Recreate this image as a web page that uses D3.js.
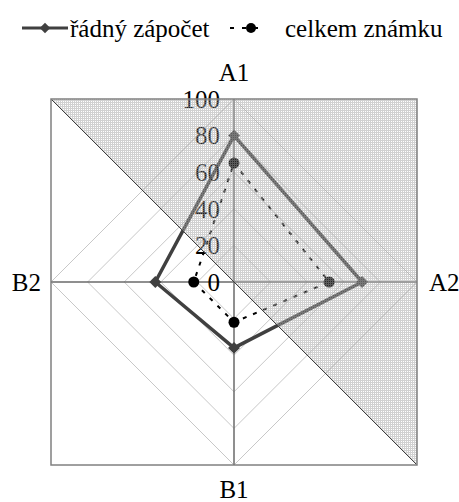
<!DOCTYPE html>
<html>
<head>
<meta charset="utf-8">
<script src="https://cdn.jsdelivr.net/npm/d3@7"></script>
<style>
  body { margin: 0; background: #fff; }
</style>
</head>
<body>
<div id="chart"></div>
<script>
// chart data
var axisNames = ["A1", "A2", "B1", "B2"];
var radnyZapocet = [80, 70, 36, 43];
var celkemZnamku = [65, 52, 22, 22];
var tickValues = [0, 20, 40, 60, 80, 100];
var seriesNames = ["řádný zápočet", "celkem známku"];

var svgWidth = 459;
var svgHeight = 502;
var cx = 234, cy = 282;
var serif = "Liberation Serif";

var svg = d3.select("#chart")
  .append("svg")
  .attr("width", svgWidth)
  .attr("height", svgHeight);

// radial scale and angle per axis (clockwise from top)
var rScale = d3.scaleLinear().domain([0, 100]).range([0, 183]);
var angle = d3.scalePoint().domain(axisNames).range([0, 2 * Math.PI * 3 / 4]);
var R = rScale(100);

// fine mesh used for the shaded triangle
var defs = svg.append("defs");
var pat = defs.append("pattern")
  .attr("id", "mesh")
  .attr("width", 2).attr("height", 2)
  .attr("patternUnits", "userSpaceOnUse");
pat.append("rect").attr("width", 2).attr("height", 2)
  .attr("fill", "#fff").attr("fill-opacity", 0.15);
pat.append("rect").attr("width", 2).attr("height", 1)
  .attr("fill", "#9a9a9a").attr("fill-opacity", 0.45);
pat.append("rect").attr("y", 1).attr("width", 1).attr("height", 1)
  .attr("fill", "#9a9a9a").attr("fill-opacity", 0.45);

var g = svg.append("g").attr("transform", `translate(${cx}, ${cy})`);

// grid diamonds
var gridLine = d3.lineRadial()
  .angle(d => angle(d.axis))
  .radius(d => rScale(d.value))
  .curve(d3.curveLinearClosed);

g.selectAll(".grid")
  .data(tickValues.slice(1))
  .enter()
  .append("path")
  .attr("d", t => gridLine(axisNames.map(a => ({axis: a, value: t}))))
  .attr("fill", "none")
  .attr("stroke", "#c8c8c8")
  .attr("stroke-width", 1);

// spokes
g.selectAll(".spoke")
  .data(axisNames)
  .enter()
  .append("line")
  .attr("x2", a => R * Math.sin(angle(a)))
  .attr("y2", a => -R * Math.cos(angle(a)))
  .attr("stroke", "#6a6a6a")
  .attr("stroke-width", 1.5);

// series
var seriesLine = d3.lineRadial()
  .angle((d, i) => angle(axisNames[i]))
  .radius(d => rScale(d))
  .curve(d3.curveLinearClosed);

g.append("path")
  .attr("d", seriesLine(celkemZnamku))
  .attr("fill", "none")
  .attr("stroke", "#000")
  .attr("stroke-width", 2)
  .attr("stroke-dasharray", "4,7");

g.append("path")
  .attr("d", seriesLine(radnyZapocet))
  .attr("fill", "none")
  .attr("stroke", "#404040")
  .attr("stroke-width", 3.5)
  .attr("stroke-linejoin", "round");

g.selectAll(".m2")
  .data(celkemZnamku)
  .enter()
  .append("circle")
  .attr("cx", (d, i) => rScale(d) * Math.sin(angle(axisNames[i])))
  .attr("cy", (d, i) => -rScale(d) * Math.cos(angle(axisNames[i])))
  .attr("r", 5.5)
  .attr("fill", "#000");

g.selectAll(".m1")
  .data(radnyZapocet)
  .enter()
  .append("path")
  .attr("d", d3.symbol().type(d3.symbolDiamond2).size(90))
  .attr("transform", (d, i) => `translate(${rScale(d) * Math.sin(angle(axisNames[i]))}, ${-rScale(d) * Math.cos(angle(axisNames[i]))})`)
  .attr("fill", "#404040");

// radial tick labels
g.selectAll(".tick")
  .data(tickValues)
  .enter()
  .append("text")
  .attr("x", -14)
  .attr("y", t => -rScale(t))
  .attr("dy", "0.35em")
  .attr("text-anchor", "end")
  .attr("font-family", serif)
  .attr("font-size", 25)
  .attr("fill", "#000")
  .text(t => t);

// shaded triangle over the upper right
g.append("path")
  .attr("d", `M${-R},${-R}L${R},${-R}L${R},${R}Z`)
  .attr("fill", "url(#mesh)");

g.append("line")
  .attr("x1", -R).attr("y1", -R)
  .attr("x2", R).attr("y2", R)
  .attr("stroke", "#404040")
  .attr("stroke-width", 1);

// outer square
g.append("rect")
  .attr("x", -R).attr("y", -R)
  .attr("width", 2 * R).attr("height", 2 * R)
  .attr("fill", "none")
  .attr("stroke", "#808080")
  .attr("stroke-width", 1.5);

// axis names
var labelPos = {
  A1: {x: 0, y: -R - 27, anchor: "middle"},
  A2: {x: R + 12, y: 0, anchor: "start"},
  B1: {x: 0, y: R + 24, anchor: "middle"},
  B2: {x: -R - 10, y: 0, anchor: "end"}
};
g.selectAll(".axisName")
  .data(axisNames)
  .enter()
  .append("text")
  .attr("x", a => labelPos[a].x)
  .attr("y", a => labelPos[a].y)
  .attr("dy", "0.35em")
  .attr("text-anchor", a => labelPos[a].anchor)
  .attr("font-family", serif)
  .attr("font-size", 25)
  .text(a => a);

// legend
var legend = svg.append("g").attr("transform", "translate(0, 28)");
legend.append("line")
  .attr("x1", 22).attr("x2", 68)
  .attr("stroke", "#404040").attr("stroke-width", 3);
legend.append("path")
  .attr("d", d3.symbol().type(d3.symbolDiamond2).size(70))
  .attr("transform", "translate(45, 0)")
  .attr("fill", "#404040");
legend.append("text")
  .attr("x", 70).attr("dy", "0.35em")
  .attr("font-family", serif)
  .attr("font-size", 25)
  .text(seriesNames[0]);

legend.append("line")
  .attr("x1", 230).attr("x2", 263)
  .attr("stroke", "#000").attr("stroke-width", 2)
  .attr("stroke-dasharray", "4,8");
legend.append("circle")
  .attr("cx", 251).attr("r", 5)
  .attr("fill", "#000");
legend.append("text")
  .attr("x", 285).attr("dy", "0.35em")
  .attr("font-family", serif)
  .attr("font-size", 25)
  .text(seriesNames[1]);
</script>
</body>
</html>
